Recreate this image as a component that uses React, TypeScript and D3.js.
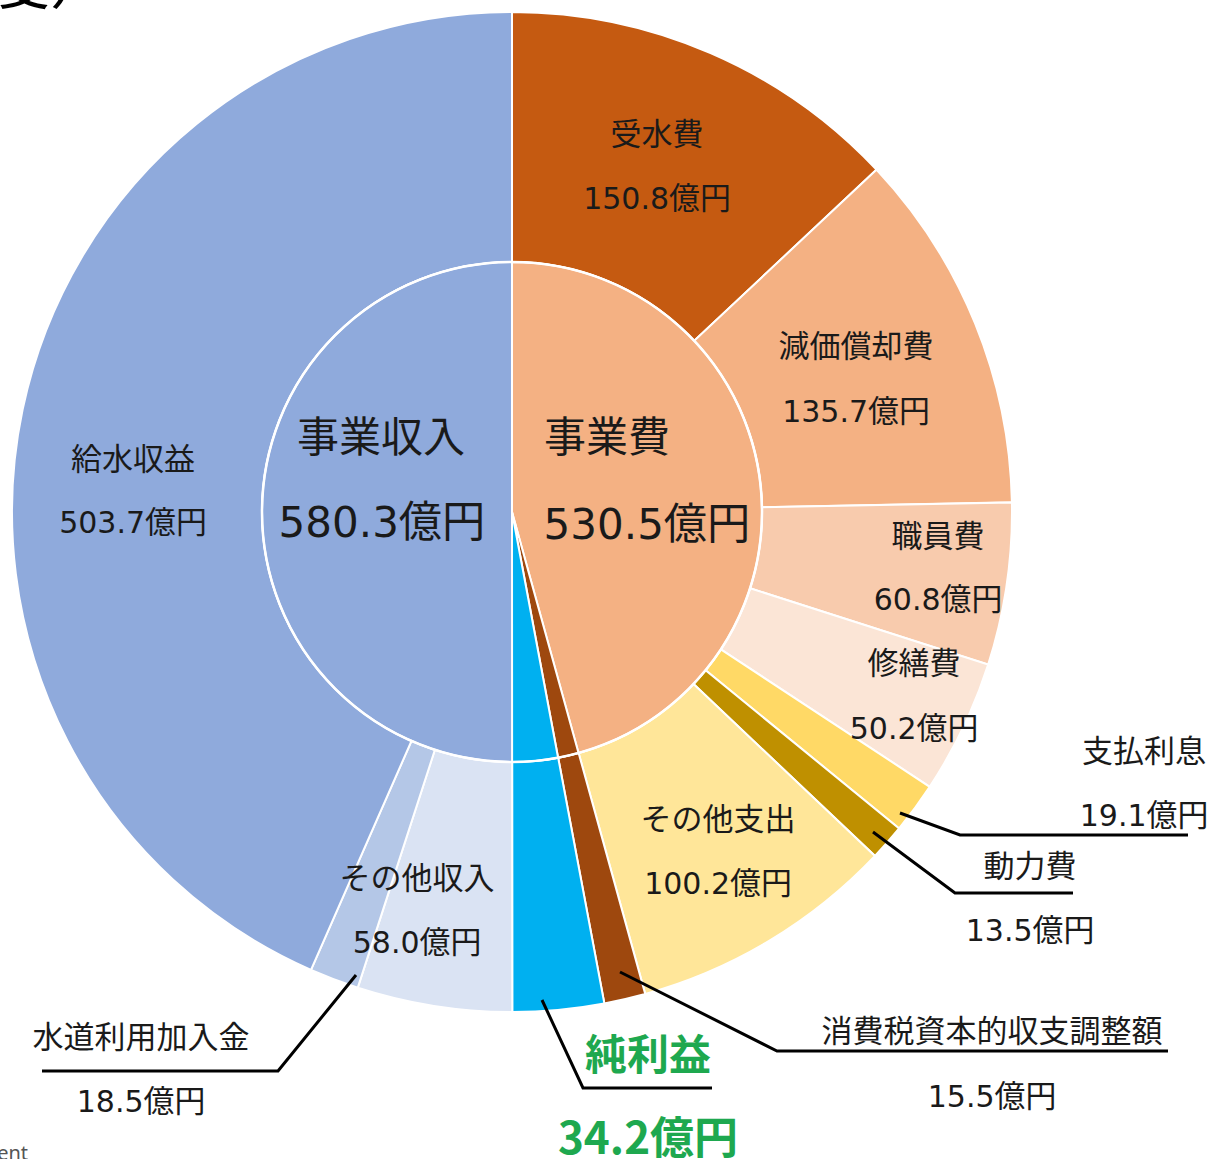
import React, { useMemo } from "react";
import * as d3 from "d3";

// ---- data ----
const outerNames = ["受水費", "減価償却費", "職員費", "修繕費", "支払利息", "動力費", "その他支出", "消費税資本的収支調整額", "純利益", "その他収入", "水道利用加入金", "給水収益"];
const outerValues = [150.8, 135.7, 60.8, 50.2, 19.1, 13.5, 100.2, 15.5, 34.2, 58.0, 18.5, 503.7];
const innerNames = ["事業費", "消費税資本的収支調整額", "純利益", "事業収入"];
const innerValues = [530.5, 15.5, 34.2, 580.3];
const unit = "億円";

// ---- styles ----
const outerColors = ["#C55A11", "#F4B183", "#F8CBAD", "#FBE5D6", "#FFD966", "#BF9000", "#FFE699", "#9E480E", "#00B0F0", "#DAE3F3", "#B4C7E7", "#8FAADC"];
const innerColors = ["#F4B183", "#9E480E", "#00B0F0", "#8FAADC"];

const W = 1214, H = 1159;
const cx = 512, cy = 512, R = 500, r0 = 250;
const FONT = "'Noto Sans CJK JP', 'Noto Sans', sans-serif";
const NUMFONT = "'DejaVu Sans', 'Noto Sans CJK JP', sans-serif";
const TXT = "#1a1a1a";
const GREEN = "#1EA84F";

type Lab = { value: number; x: number; y1: number; y2: number };

export default function App() {
  const pieOuter = useMemo(() => d3.pie<number>().sort(null).startAngle(0).endAngle(2 * Math.PI)(outerValues), []);
  const pieInner = useMemo(() => d3.pie<number>().sort(null).startAngle(0).endAngle(2 * Math.PI)(innerValues), []);
  const arcOuter = d3.arc<d3.PieArcDatum<number>>().innerRadius(r0).outerRadius(R);
  const arcInner = d3.arc<d3.PieArcDatum<number>>().innerRadius(0).outerRadius(r0);

  const labels: Lab[] = [
    { value: 0, x: 657, y1: 145, y2: 209 },
    { value: 1, x: 856, y1: 357, y2: 422 },
    { value: 2, x: 938, y1: 547, y2: 610 },
    { value: 3, x: 914, y1: 674, y2: 739 },
    { value: 4, x: 1144, y1: 762, y2: 826 },
    { value: 5, x: 1030, y1: 877, y2: 941 },
    { value: 6, x: 718, y1: 830, y2: 894 },
    { value: 7, x: 992, y1: 1042, y2: 1107 },
    { value: 9, x: 417, y1: 889, y2: 953 },
    { value: 10, x: 141, y1: 1048, y2: 1112 },
    { value: 11, x: 133, y1: 470, y2: 533 },
  ];

  const leaders: [number, number][][] = [
    [[900, 813], [960, 835], [1188, 835]],
    [[873, 832], [955, 893], [1073, 893]],
    [[620, 972], [777, 1051], [1168, 1051]],
    [[542, 1000], [583, 1088], [712, 1088]],
    [[356, 975], [278, 1071], [42, 1071]],
  ];
  const line = d3.line();

  const Num = ({ x, y, val, size }: { x: number; y: number; val: number; size: number }) => (
    <text x={x} y={y} fontSize={size} textAnchor="middle">
      <tspan fontFamily={NUMFONT}>{val.toFixed(1)}</tspan>
      <tspan fontFamily={FONT} fontSize={size * 1.03}>{unit}</tspan>
    </text>
  );

  return (
    <svg width={W} height={H} style={{ position: "absolute", left: 0, top: 0, background: "#fff" }} fontFamily={FONT}>
      <rect width={W} height={H} fill="#fff" />
      {/* cropped heading remnant */}
      <text x={-12} y={4} fontSize={62} fill="#000" fontFamily={FONT}>度）</text>
      <g transform={`translate(${cx},${cy})`}>
        {pieOuter.map((d, i) => (
          <path key={"o" + i} d={arcOuter(d) || ""} fill={outerColors[i]} stroke="#fff" strokeWidth={2} />
        ))}
        {pieInner.map((d, i) => (
          <path key={"i" + i} d={arcInner(d) || ""} fill={innerColors[i]} stroke="#fff" strokeWidth={2} />
        ))}
        <circle r={r0} fill="none" stroke="#fff" strokeWidth={2.5} />
      </g>
      {leaders.map((pts, i) => (
        <path key={"l" + i} d={line(pts) || ""} fill="none" stroke="#000" strokeWidth={3} />
      ))}
      {labels.map((l, i) => (
        <g key={"t" + i} fill={TXT}>
          <text x={l.x} y={l.y1} fontSize={31} textAnchor="middle">{outerNames[l.value]}</text>
          <Num x={l.x} y={l.y2} val={outerValues[l.value]} size={30} />
        </g>
      ))}
      {/* center labels */}
      <g fill={TXT}>
        <text x={381} y={452} fontSize={42} textAnchor="middle">{innerNames[3]}</text>
        <Num x={382} y={537} val={innerValues[3]} size={42} />
        <text x={607} y={452} fontSize={42} textAnchor="middle">{innerNames[0]}</text>
        <Num x={647} y={539} val={innerValues[0]} size={42} />
      </g>
      {/* net profit */}
      <g fill={GREEN} fontWeight="bold" textAnchor="middle">
        <text x={648} y={1070} fontSize={42}>{outerNames[8]}</text>
        <text x={648} y={1154} fontSize={44}>{outerValues[8].toFixed(1) + unit}</text>
      </g>
      <text x={28} y={1160} fontSize={20} fill="#555" textAnchor="end" fontFamily="'Noto Sans', sans-serif">ent</text>
    </svg>
  );
}
